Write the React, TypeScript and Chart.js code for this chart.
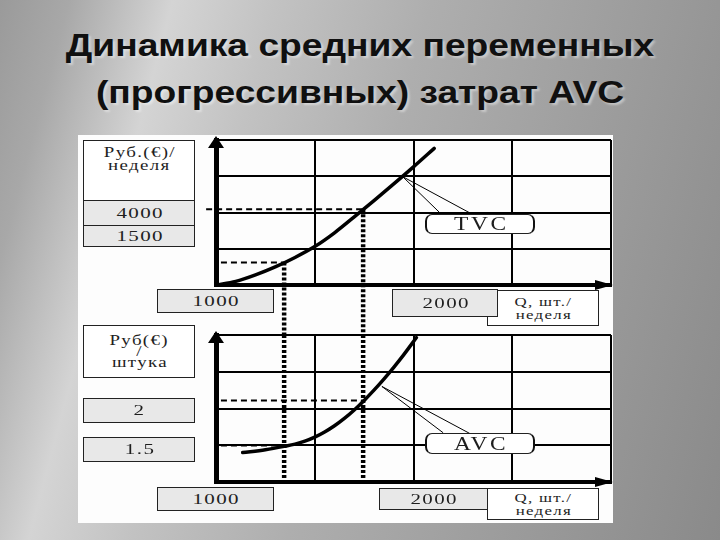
import React, { useEffect, useRef } from 'react';
import { Chart, registerables } from 'chart.js';

Chart.register(...registerables);

// ---- data (grid units: one grid cell = one unit on each axis) ----
const gridMax = 4;
const qTVC = [0, 0.2, 0.4, 0.6, 0.8, 1.0, 1.2, 1.4, 1.6, 1.8, 2.0, 2.21];
const tvcValues = [0, 0.1, 0.28, 0.5, 0.76, 1.06, 1.44, 1.88, 2.33, 2.79, 3.26, 3.77];
const qAVC = [0.27, 0.5, 0.69, 0.8, 0.9, 1.0, 1.1, 1.2, 1.3, 1.4, 1.5, 1.6, 1.7, 1.8, 1.9, 2.03];
const avcValues = [0.8, 0.88, 0.97, 1.03, 1.11, 1.22, 1.36, 1.53, 1.73, 1.96, 2.22, 2.5, 2.8, 3.12, 3.46, 3.93];
const markQ = [0.69, 1.49]; // Q = 1000 and Q = 2000
const tvcMarks = [0.62, 2.09];
const avcMarks = [0.99, 2.22];
const tvcDashStart = [0.05, -0.1];
const avcDashStart = [0.05, 0.05];
const tvcDropTo = -1.38; // dotted drop lines continue down into the lower chart
const avcDropFrom = 4;
const tvcLeaderQ = [1.89, 2.26, 2.59];
const tvcLeaderV = [2.99, 2.01, 1.96];
const avcLeaderQ = [1.68, 2.3, 2.57];
const avcLeaderV = [2.6, 1.34, 1.32];
const xTickLabels = ['1000', '2000'];
const tvcTickLabels = ['4000', '1500'];
const avcTickLabels = ['2', '1.5'];
const tvcUnit = ['Руб.(€)/', 'неделя'];
const avcUnit = ['Руб(€)', '/', 'штука'];
const qUnit = ['Q, шт./', 'неделя'];

const arrowPlugin = {
  id: 'axisArrows',
  afterDraw(chart: any) {
    const { ctx, chartArea } = chart;
    const { left, right, top, bottom } = chartArea;
    ctx.save();
    ctx.fillStyle = '#000';
    ctx.beginPath();
    ctx.moveTo(left, top - 4);
    ctx.lineTo(left - 8, top + 8);
    ctx.lineTo(left + 8, top + 8);
    ctx.closePath();
    ctx.fill();
    ctx.beginPath();
    ctx.moveTo(right + 2, bottom);
    ctx.lineTo(right - 16, bottom - 5);
    ctx.lineTo(right - 16, bottom + 5);
    ctx.closePath();
    ctx.fill();
    ctx.restore();
  },
};

function pts(xs: number[], ys: number[]) {
  return xs.map((x, i) => ({ x, y: ys[i] }));
}

function buildConfig(
  q: number[],
  v: number[],
  marks: number[],
  dashStart: number[],
  dropFrom: number | null,
  dropTo: number,
  leaderQ: number[],
  leaderV: number[],
  padding: any
) {
  const line = (data: any[], width: number, dash: number[] = []) => ({
    data,
    showLine: true,
    borderColor: '#000',
    backgroundColor: '#000',
    borderWidth: width,
    borderDash: dash,
    pointRadius: 0,
    clip: false as any,
  });
  const datasets: any[] = [
    { ...line(pts(q, v), 3.5), cubicInterpolationMode: 'monotone', borderCapStyle: 'round', borderJoinStyle: 'round' },
  ];
  markQ.forEach((mq, i) => {
    datasets.push(line([{ x: dashStart[i], y: marks[i] }, { x: mq, y: marks[i] }], 2, [6, 4]));
    datasets.push(
      line([{ x: mq, y: dropFrom === null ? marks[i] : dropFrom }, { x: mq, y: dropTo }], 4.5, [3, 2])
    );
  });
  datasets.push(line([{ x: leaderQ[0], y: leaderV[0] }, { x: leaderQ[1], y: leaderV[1] }], 1));
  datasets.push(line([{ x: leaderQ[0], y: leaderV[0] }, { x: leaderQ[2], y: leaderV[2] }], 1));
  return {
    type: 'scatter' as const,
    data: { datasets },
    options: {
      animation: false as const,
      responsive: false,
      devicePixelRatio: 1,
      events: [],
      layout: { padding, autoPadding: false },
      plugins: { legend: { display: false }, tooltip: { enabled: false } },
      scales: {
        x: {
          type: 'linear' as const,
          min: 0,
          max: gridMax,
          ticks: { display: false, stepSize: 1 },
          grid: { color: '#000', lineWidth: 2, drawTicks: false },
          border: { color: '#000', width: 4 },
        },
        y: {
          type: 'linear' as const,
          min: 0,
          max: gridMax,
          ticks: { display: false, stepSize: 1 },
          grid: { color: '#000', lineWidth: 2, drawTicks: false },
          border: { color: '#000', width: 5 },
        },
      },
    },
    plugins: [arrowPlugin],
  };
}

const serif = '"Liberation Serif", "DejaVu Serif", serif';

function Box(props: {
  x: number;
  y: number;
  w: number;
  h: number;
  fill?: string;
  lines: string[];
  size?: number;
  spacing?: number;
  stretch?: number;
  lh?: number;
  radius?: number;
  z?: number;
  sideBorder?: string;
  padTop?: number;
}) {
  const {
    x,
    y,
    w,
    h,
    fill = '#e8e8e8',
    lines,
    size = 15,
    spacing = 1,
    stretch = 1.4,
    lh = 13,
    radius = 0,
    z = 3,
    sideBorder,
    padTop,
  } = props;
  return (
    <div
      style={{
        position: 'absolute',
        left: x,
        top: y,
        width: w,
        height: h,
        boxSizing: 'border-box',
        border: '1.5px solid #222',
        borderLeft: sideBorder || '1.5px solid #222',
        borderRight: sideBorder || '1.5px solid #222',
        borderRadius: radius,
        background: fill,
        display: 'flex',
        flexDirection: 'column',
        alignItems: 'center',
        justifyContent: padTop === undefined ? 'center' : 'flex-start',
        paddingTop: padTop || 0,
        fontFamily: serif,
        fontSize: size,
        lineHeight: lh + 'px',
        color: '#1e1e1e',
        zIndex: z,
      }}
    >
      {lines.map((l, i) => (
        <div
          key={i}
          style={{
            transform: `scaleX(${stretch})`,
            letterSpacing: spacing,
            paddingLeft: spacing,
            whiteSpace: 'nowrap',
          }}
        >
          {l}
        </div>
      ))}
    </div>
  );
}

export default function App() {
  const topRef = useRef<HTMLCanvasElement>(null);
  const botRef = useRef<HTMLCanvasElement>(null);

  useEffect(() => {
    const top = new Chart(
      topRef.current as HTMLCanvasElement,
      buildConfig(qTVC, tvcValues, tvcMarks, tvcDashStart, null, tvcDropTo, tvcLeaderQ, tvcLeaderV, {
        left: 216,
        right: 109,
        top: 20,
        bottom: 60,
      }) as any
    );
    const bot = new Chart(
      botRef.current as HTMLCanvasElement,
      buildConfig(qAVC, avcValues, avcMarks, avcDashStart, avcDropFrom, 0, avcLeaderQ, avcLeaderV, {
        left: 216,
        right: 109,
        top: 15,
        bottom: 58,
      }) as any
    );
    return () => {
      top.destroy();
      bot.destroy();
    };
  }, []);

  const titleStyle: React.CSSProperties = {
    position: 'absolute',
    left: 0,
    width: 720,
    textAlign: 'center',
    fontFamily: '"Liberation Sans", Arial, sans-serif',
    fontWeight: 'bold',
    fontSize: 31,
    lineHeight: '30px',
    color: '#101010',
    transform: 'scaleX(1.2)',
    transformOrigin: '360px 0',
    textShadow: '2px 2px 2px rgba(255,255,255,0.4)',
    whiteSpace: 'nowrap',
  };

  return (
    <div
      style={{
        position: 'fixed',
        left: 0,
        top: 0,
        width: 720,
        height: 540,
        overflow: 'hidden',
        background:
          'linear-gradient(105deg, #9a9a9a 0%, #a8a8a8 8%, #d4d4d4 20%, #c2c2c2 32%, #aeaeae 50%, #9e9e9e 72%, #8a8a8a 100%)',
      }}
    >
      <div style={{ ...titleStyle, top: 31 }}>Динамика средних переменных</div>
      <div style={{ ...titleStyle, top: 78 }}>(прогрессивных) затрат AVC</div>

      <div
        style={{
          position: 'absolute',
          left: 78,
          top: 135,
          width: 535,
          height: 388,
          background: '#fdfdfd',
        }}
      />

      <canvas
        ref={topRef}
        width={720}
        height={225}
        style={{ position: 'absolute', left: 0, top: 120, width: 720, height: 225, zIndex: 1 }}
      />
      <canvas
        ref={botRef}
        width={720}
        height={220}
        style={{ position: 'absolute', left: 0, top: 320, width: 720, height: 220, zIndex: 2 }}
      />

      {/* upper chart labels */}
      <Box
        x={83}
        y={140}
        w={112}
        h={61}
        fill="#fff"
        lines={tvcUnit}
        size={14}
        spacing={1}
        stretch={1.35}
        lh={13}
        padTop={5}
      />
      <Box x={83} y={200} w={112} h={26} lines={[tvcTickLabels[0]]} />
      <Box x={83} y={225} w={112} h={22} lines={[tvcTickLabels[1]]} />
      <Box x={157} y={289} w={117} h={24} lines={[xTickLabels[0]]} />
      <Box x={487} y={290} w={112} h={36} fill="#fff" lines={qUnit} size={13} spacing={1} stretch={1.3} lh={13} />
      <Box x={392} y={289} w={106} h={28} lines={[xTickLabels[1]]} z={4} />
      <Box
        x={425}
        y={214}
        w={110}
        h={20}
        fill="#fff"
        lines={['TVC']}
        size={18}
        spacing={2}
        stretch={1.3}
        lh={18}
        radius={7}
        sideBorder="2px solid #111"
      />

      {/* lower chart labels */}
      <Box x={83} y={325} w={112} h={53} fill="#fff" lines={avcUnit} size={14} spacing={1} stretch={1.35} lh={11} />
      <Box x={83} y={398} w={112} h={25} lines={[avcTickLabels[0]]} />
      <Box x={83} y={437} w={112} h={25} lines={[avcTickLabels[1]]} />
      <Box x={157} y={487} w={117} h={24} lines={[xTickLabels[0]]} />
      <Box x={487} y={488} w={112} h={32} fill="#fff" lines={qUnit} size={13} spacing={1} stretch={1.3} lh={13} />
      <Box x={379} y={488} w={109} h={22} lines={[xTickLabels[1]]} z={4} />
      <Box
        x={425}
        y={433}
        w={110}
        h={21}
        fill="#fff"
        lines={['AVC']}
        size={18}
        spacing={2}
        stretch={1.3}
        lh={18}
        radius={7}
        sideBorder="2px solid #111"
      />
    </div>
  );
}
